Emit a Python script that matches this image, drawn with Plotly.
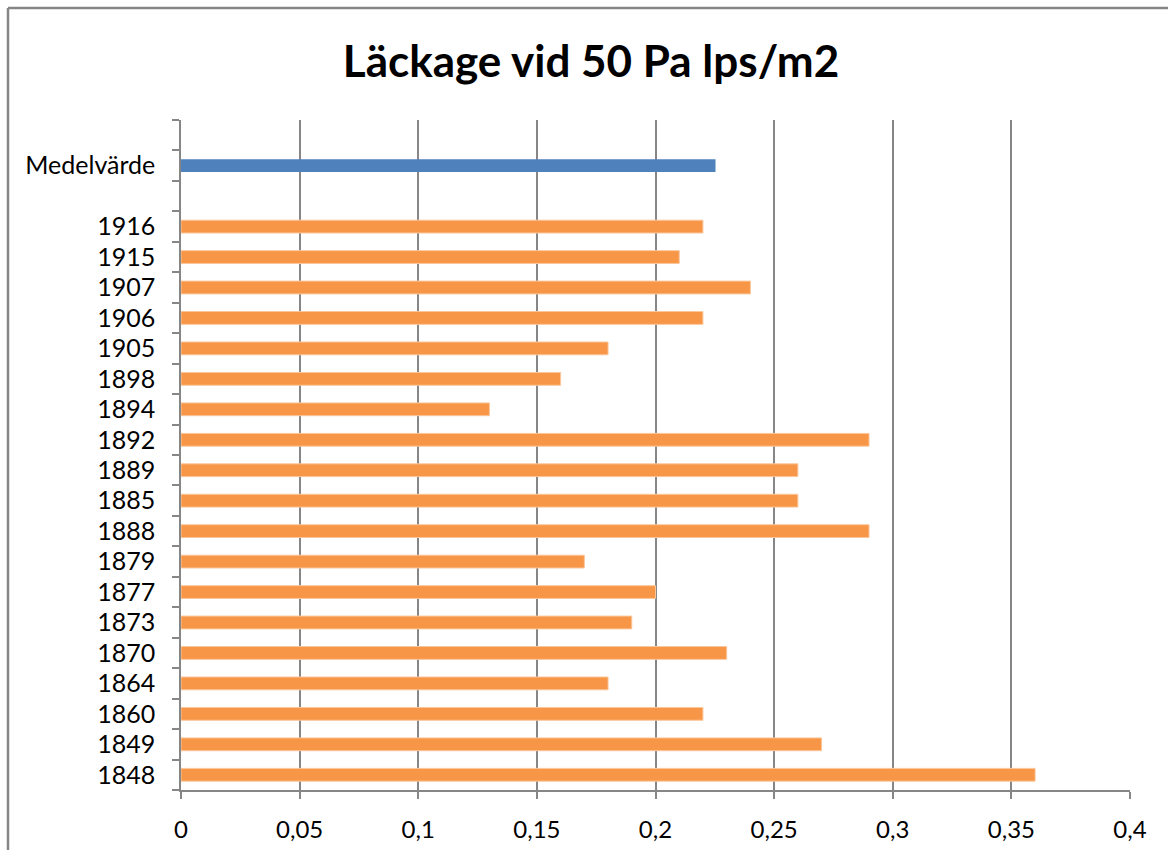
import plotly.graph_objects as go

# Data
years = ["1848", "1849", "1860", "1864", "1870", "1873", "1877", "1879", "1888",
         "1885", "1889", "1892", "1894", "1898", "1905", "1906", "1907", "1915", "1916"]
leakage = [0.36, 0.27, 0.22, 0.18, 0.23, 0.19, 0.20, 0.17, 0.29,
           0.26, 0.26, 0.29, 0.13, 0.16, 0.18, 0.22, 0.24, 0.21, 0.22]
mean_label = ["Medelvärde"]
mean_value = [0.2253]
blank_low = " "
blank_high = "  "
category_order = years + [blank_low] + mean_label + [blank_high]

title_text = "Läckage vid 50 Pa lps/m2"
x_ticks = [0, 0.05, 0.1, 0.15, 0.2, 0.25, 0.3, 0.35, 0.4]

GRID = "#868686"
ORANGE = "#F79646"
BLUE = "#4F81BD"
FONT = "Lato"

fig = go.Figure()
fig.add_trace(go.Bar(
    y=years, x=leakage, orientation="h",
    marker=dict(color=ORANGE, line=dict(color="#FBC69A", width=1)),
    width=0.42, showlegend=False, hoverinfo="x+y"))
fig.add_trace(go.Bar(
    y=mean_label, x=mean_value, orientation="h",
    marker=dict(color=BLUE, line=dict(width=0)),
    width=0.42, showlegend=False, hoverinfo="x+y"))

W, H = 1168, 850
L, R, T, B = 181, 1130, 120, 790

fig.update_layout(
    width=W, height=H,
    margin=dict(l=L, r=W - R, t=T, b=H - B, pad=0, autoexpand=False),
    paper_bgcolor="white", plot_bgcolor="white",
    separators=", ",
    barmode="overlay",
    font=dict(family=FONT, size=25, color="black"),
    title=dict(text="<b>" + title_text + "</b>", x=591 / W, xref="container",
               xanchor="center", y=1 - 62 / H, yref="container", yanchor="middle",
               font=dict(family=FONT, size=44, color="black")),
    xaxis=dict(range=[0, 0.4], tickvals=x_ticks, showgrid=True, gridcolor=GRID,
               gridwidth=1.5, zeroline=False, showline=True, linecolor=GRID,
               linewidth=1.5, ticks="outside", ticklen=7, tickcolor=GRID,
               tickwidth=1.5, ticklabelstandoff=10, automargin=False,
               tickfont=dict(family=FONT, size=24, color="black")),
    yaxis=dict(type="category", categoryorder="array", categoryarray=category_order,
               range=[-0.5, len(category_order) - 0.5],
               tickson="boundaries", showgrid=False, zeroline=False,
               showline=True, linecolor=GRID, linewidth=1.5, mirror=False,
               ticks="outside", ticklen=7, tickcolor=GRID, tickwidth=1.5,
               ticklabelstandoff=19, automargin=False,
               tickfont=dict(family=FONT, size=25, color="black")),
)

# outer chart frame (left and top edges visible in the reference)
pw, ph = R - L, B - T
fx = (8 - L) / pw
fy = (B - 8) / ph
fig.add_shape(type="line", xref="paper", yref="paper", x0=fx, x1=(W + 20 - L) / pw,
              y0=fy, y1=fy, line=dict(color=GRID, width=2.5))
fig.add_shape(type="line", xref="paper", yref="paper", x0=fx, x1=fx,
              y0=fy, y1=(B - H - 20) / ph, line=dict(color=GRID, width=2.5))

fig.write_html("out.html")
